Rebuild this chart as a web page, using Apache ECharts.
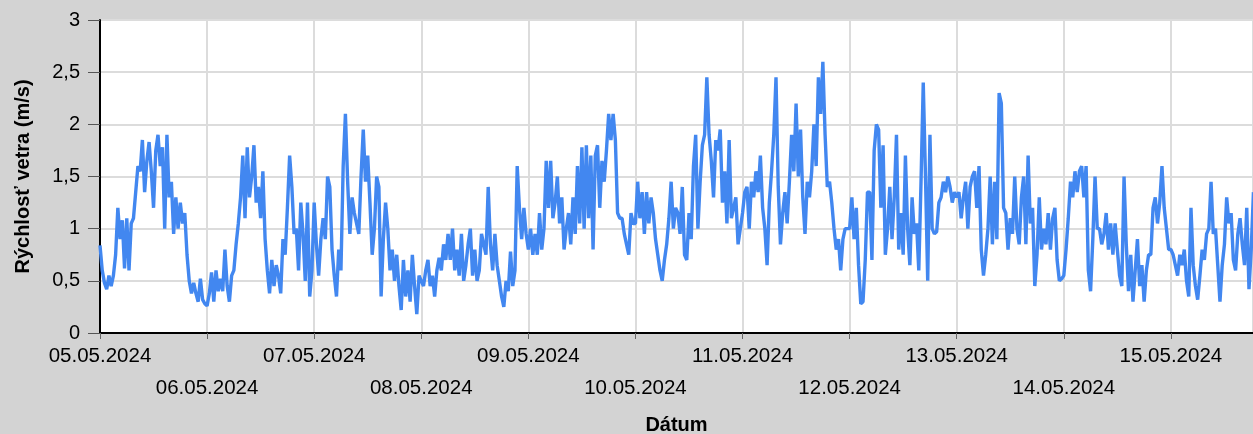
<!DOCTYPE html>
<html>
<head>
<meta charset="utf-8">
<script src="https://cdn.jsdelivr.net/npm/echarts@6/dist/echarts.min.js"></script>
<style>
html,body{margin:0;padding:0;background:#d3d3d3;}
#chart{width:1253px;height:434px;}
</style>
</head>
<body>
<div id="chart"></div>
<script>
// Tick labels (one per day)
const dayLabels = ['05.05.2024','06.05.2024','07.05.2024','08.05.2024','09.05.2024','10.05.2024','11.05.2024','12.05.2024','13.05.2024','14.05.2024','15.05.2024'];
const stepHours = 0.5; // sampling step of the readings (half-hourly estimates)
const rangeHours = 258.4; // visible time span

// Wind speed (m/s), per day, half-hour readings
const day05 = [0.84,0.6,0.48,0.42,0.55,0.45,0.55,0.75,1.2,0.9,1.08,0.62,1.1,0.6,1.05,1.1,1.35,1.6,1.55,1.85,1.35,1.65,1.83,1.55,1.2,1.75,1.9,1.6,1.78,1.0,1.9,1.3,1.45,0.95,1.3,1.0,1.25,1.05,1.15,0.75,0.5,0.38,0.48,0.38,0.3,0.52,0.32,0.28];
const day06 = [0.26,0.38,0.58,0.3,0.6,0.4,0.52,0.4,0.8,0.45,0.3,0.55,0.6,0.85,1.05,1.3,1.7,1.1,1.78,1.3,1.5,1.8,1.25,1.4,1.1,1.55,0.9,0.6,0.38,0.7,0.45,0.65,0.55,0.38,0.9,0.75,1.2,1.7,1.4,0.95,1.0,0.6,1.25,0.95,0.5,1.25,0.35,0.6];
const day07 = [1.25,0.85,0.55,0.9,1.1,0.9,1.5,1.4,0.8,0.55,0.35,0.8,0.6,1.6,2.1,1.45,0.95,1.3,1.15,1.05,0.95,1.5,1.95,1.45,1.7,1.25,0.75,1.0,1.5,1.4,0.35,0.9,1.25,1.0,0.6,0.8,0.5,0.75,0.45,0.22,0.7,0.35,0.6,0.3,0.75,0.45,0.18,0.55];
const day08 = [0.5,0.45,0.6,0.7,0.45,0.55,0.35,0.6,0.72,0.6,0.85,0.7,0.95,0.7,1.0,0.6,0.8,0.55,0.95,0.5,0.65,0.85,1.0,0.55,0.8,0.5,0.6,0.95,0.85,0.75,1.4,0.85,0.6,0.95,0.65,0.5,0.35,0.25,0.5,0.4,0.78,0.45,0.6,1.6,1.2,0.9,1.2,0.95];
const day09 = [0.8,1.0,0.75,0.95,0.75,1.15,0.8,1.0,1.65,1.2,1.65,1.1,1.25,1.5,1.05,1.3,0.8,1.0,1.15,0.85,1.3,0.95,1.6,1.05,1.78,1.0,1.8,1.1,1.7,0.8,1.7,1.8,1.2,1.65,1.45,1.75,2.1,1.85,2.1,1.85,1.15,1.1,1.1,0.95,0.85,0.75,1.15,1.05];
const day10 = [1.05,1.45,1.1,1.35,0.95,1.35,1.05,1.3,1.15,0.9,0.75,0.6,0.5,0.7,0.85,1.1,1.45,1.0,1.2,1.15,0.95,1.4,0.75,0.7,1.15,0.9,1.6,1.9,1.0,1.45,1.8,1.9,2.45,1.9,1.65,1.3,1.85,1.75,1.95,1.25,1.55,1.05,1.85,1.1,1.2,1.3,0.85,1.0];
const day11 = [1.15,1.35,1.4,1.0,1.45,1.3,1.55,1.35,1.7,1.2,1.0,0.65,1.25,1.55,1.9,2.45,1.4,0.85,1.15,1.35,1.05,1.45,1.9,1.55,2.2,1.5,1.95,1.3,0.95,1.45,1.3,1.55,2.0,1.6,2.45,2.1,2.6,1.9,1.4,1.45,1.25,1.0,0.8,0.9,0.6,0.9,1.0,1.0];
const day12 = [1.0,1.3,0.9,1.2,0.65,0.28,0.3,0.7,1.35,1.35,0.7,1.75,2.0,1.95,1.2,1.8,0.75,1.0,1.4,0.9,1.3,1.9,0.8,1.15,0.75,1.7,1.0,0.65,1.3,0.95,1.05,0.6,1.45,2.4,1.5,0.5,1.9,1.0,0.95,0.97,1.25,1.3,1.45,1.35,1.5,1.4,1.25,1.35];
const day13 = [1.3,1.35,1.1,1.3,1.45,1.0,1.4,1.5,1.55,1.2,1.6,0.8,0.55,0.75,1.0,1.5,0.85,1.45,0.9,2.3,2.2,1.2,1.15,0.8,1.1,0.95,1.5,1.0,0.85,1.3,1.5,0.85,1.7,1.05,1.2,0.45,0.75,1.3,0.8,1.0,0.85,1.15,0.8,1.1,1.2,0.7,0.5,0.52];
const day14 = [0.55,0.8,1.1,1.45,1.3,1.55,1.35,1.55,1.6,1.3,1.6,0.6,0.4,0.9,1.5,1.0,1.0,0.85,0.95,1.15,0.8,1.05,0.75,1.05,0.8,0.55,0.45,1.5,0.85,0.4,0.75,0.3,0.6,0.9,0.45,0.65,0.3,0.6,0.75,0.75,1.2,1.3,1.05,1.25,1.6,1.2,1.0,0.8];
const day15 = [0.8,0.75,0.65,0.55,0.75,0.65,0.8,0.5,0.35,1.2,0.65,0.45,0.32,0.55,0.8,0.7,0.95,1.0,1.45,0.95,1.0,0.65,0.3,0.65,0.85,1.3,1.05,1.15,0.7,0.6,0.95,1.1,0.85,0.65,1.2,0.42,0.8,1.35];

const speeds = [].concat(day05,day06,day07,day08,day09,day10,day11,day12,day13,day14,day15);
const seriesData = speeds.map((v,i)=>[i*stepHours, v]);

const chart = echarts.init(document.getElementById('chart'), null, {renderer:'canvas'});
const FONT = 'Liberation Sans, Arial, sans-serif';
chart.setOption({
  backgroundColor:'#d3d3d3',
  animation:false,
  grid:{left:100,right:0,top:20,bottom:101,show:true,backgroundColor:'#ffffff',borderWidth:0,
        containLabel:false, outerBoundsMode:'none'},
  xAxis:{
    type:'value', min:0, max:rangeHours, interval:24,
    name:'Dátum', nameLocation:'middle', nameGap:82,
    nameTextStyle:{fontFamily:FONT,fontSize:20,fontWeight:'bold',color:'#000'},
    axisLine:{show:true,onZero:false,lineStyle:{color:'#000',width:2}},
    axisTick:{show:true,length:6,lineStyle:{color:'#666',width:1}},
    splitLine:{show:true,lineStyle:{color:'#dcdcdc',width:2}},
    axisLabel:{
      fontFamily:FONT,fontSize:20.5,color:'#000',margin:7,lineHeight:32,
      showMaxLabel:false, hideOverlap:false,
      formatter:function(v){
        const d = Math.round(v/24);
        if (Math.abs(v - d*24) > 1e-6 || d >= dayLabels.length) return '';
        return (d % 2 === 1 ? '\n' : '') + dayLabels[d];
      }
    }
  },
  yAxis:{
    type:'value', min:0, max:3, interval:0.5,
    name:'Rýchlosť vetra (m/s)', nameLocation:'middle', nameGap:67,
    nameTextStyle:{fontFamily:FONT,fontSize:20,fontWeight:'bold',color:'#000'},
    axisLine:{show:true,lineStyle:{color:'#000',width:2}},
    axisTick:{show:true,length:12,lineStyle:{color:'#555',width:1}},
    splitLine:{show:true,lineStyle:{color:'#dcdcdc',width:2}},
    axisLabel:{fontFamily:FONT,fontSize:20,color:'#000',margin:20,
      formatter:function(v){return String(v).replace('.',',');}}
  },
  series:[{
    type:'line', data:seriesData, showSymbol:false, symbol:'none',
    lineStyle:{color:'#4287f0',width:3.4}, itemStyle:{color:'#4287f0'},
    clip:true
  }]
});
</script>
</body>
</html>
